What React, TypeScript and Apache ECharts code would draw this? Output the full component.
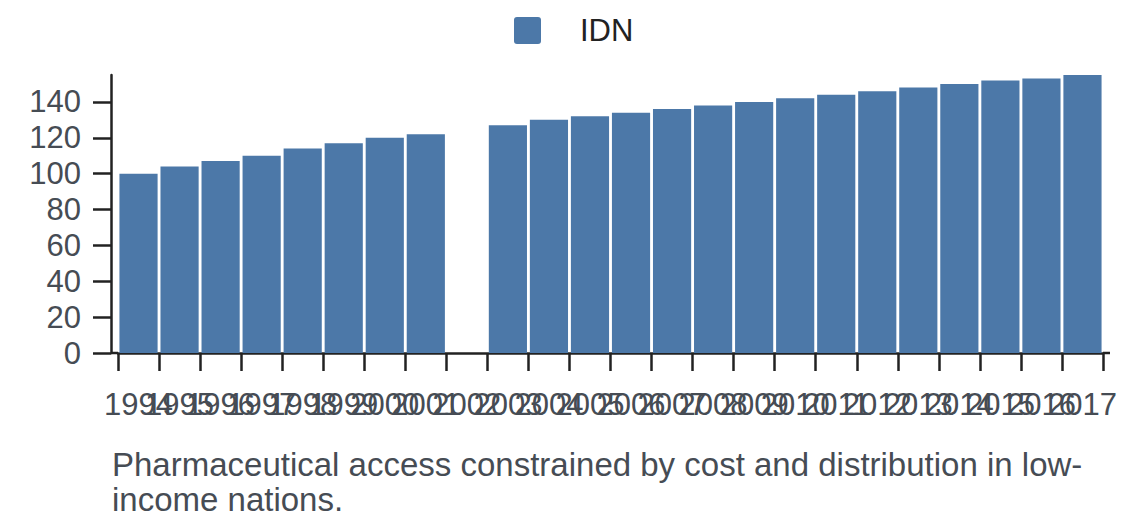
import React, { useEffect, useRef } from "react";
import * as echarts from "echarts";

const years: string[] = [
  "1994", "1995", "1996", "1997", "1998", "1999", "2000", "2001", "2002",
  "2003", "2004", "2005", "2006", "2007", "2008", "2009", "2010", "2011",
  "2012", "2013", "2014", "2015", "2016", "2017",
];
const idnValues: (number | string)[] = [
  100, 104, 107, 110, 114, 117, 120, 122, "-",
  127, 130, 132, 134, 136, 138, 140, 142, 144,
  146, 148, 150, 152, 153, 155,
];
const yTicks: number[] = [0, 20, 40, 60, 80, 100, 120, 140];
const seriesName = "IDN";
const caption =
  "Pharmaceutical access constrained by cost and distribution in low-\nincome nations.";

const FONT = "'Liberation Sans', Arial, sans-serif";
const AXIS = "#222222";
const LABEL = "#464c54";

export default function App() {
  const ref = useRef<HTMLDivElement>(null);
  useEffect(() => {
    if (!ref.current) return;
    const chart = echarts.init(ref.current, null, { renderer: "svg" });
    const gridLeft = 118;
    const gridRight = 37;
    const gridTop = 75;
    const gridBottom = 175;
    const axisY = 528 - gridBottom;
    chart.setOption({
      animation: false,
      legend: {
        data: [seriesName],
        left: 514,
        top: 15,
        padding: 0,
        itemWidth: 27,
        itemHeight: 27,
        icon: "path://M3,0H24Q27,0 27,3V24Q27,27 24,27H3Q0,27 0,24V3Q0,0 3,0Z",
        textStyle: {
          fontFamily: FONT,
          fontSize: 31,
          color: "#222222",
          padding: [0, 0, 0, 34],
        },
      },
      grid: { left: gridLeft, right: gridRight, top: gridTop, bottom: gridBottom, containLabel: false },
      xAxis: {
        type: "category",
        data: years,
        boundaryGap: true,
        axisLine: { show: true, lineStyle: { color: AXIS, width: 2.5 } },
        axisTick: { show: true, length: 18, lineStyle: { color: AXIS, width: 2.5 } },
        axisLabel: {
          interval: 0,
          margin: 36,
          fontFamily: FONT,
          fontSize: 31,
          color: LABEL,
          hideOverlap: false,
        },
        splitLine: { show: false },
      },
      yAxis: {
        type: "value",
        min: 0,
        max: 155,
        offset: 7,
        axisLine: { show: true, lineStyle: { color: AXIS, width: 2.5 } },
        axisTick: { show: true, length: 18, customValues: yTicks, lineStyle: { color: AXIS, width: 2.5 } },
        axisLabel: {
          customValues: yTicks,
          margin: 30,
          fontFamily: FONT,
          fontSize: 31,
          color: LABEL,
        },
        splitLine: { show: false },
      },
      series: [
        {
          name: seriesName,
          type: "bar",
          data: idnValues,
          barCategoryGap: "7%",
          itemStyle: { color: "#4c78a8" },
        },
      ],
      graphic: [
        {
          type: "line",
          shape: { x1: gridLeft - 7, y1: axisY, x2: gridLeft, y2: axisY },
          style: { stroke: AXIS, lineWidth: 2.5 },
        },
        {
          type: "line",
          shape: { x1: 1140 - gridRight, y1: axisY, x2: 1140 - gridRight + 7, y2: axisY },
          style: { stroke: AXIS, lineWidth: 2.5 },
        },
        {
          type: "text",
          left: 112,
          top: 447,
          style: {
            text: caption,
            fontFamily: FONT,
            fontSize: 33,
            lineHeight: 35,
            fill: LABEL,
          },
        },
      ],
    });
    return () => chart.dispose();
  }, []);
  return (
    <div
      ref={ref}
      style={{ position: "absolute", left: 0, top: 0, width: 1140, height: 528 }}
    />
  );
}
